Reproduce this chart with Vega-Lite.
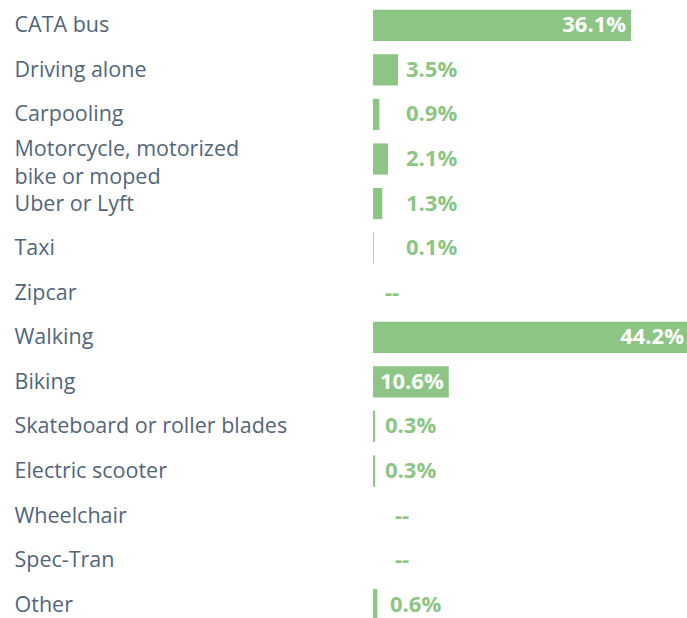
{
  "$schema": "https://vega.github.io/schema/vega-lite/v6.json",
  "autosize": {"type": "none"},
  "padding": {"left": 373, "top": 3, "right": 0, "bottom": 0},
  "width": 316,
  "height": 624,
  "background": "white",
  "config": {"view": {"stroke": null}},
  "data": {
    "values": [
      {"mode": "CATA bus", "pct": 36.1, "label": "36.1%"},
      {"mode": "Driving alone", "pct": 3.5, "label": "3.5%"},
      {"mode": "Carpooling", "pct": 0.9, "label": "0.9%"},
      {"mode": "Motorcycle, motorized bike or moped", "pct": 2.1, "label": "2.1%"},
      {"mode": "Uber or Lyft", "pct": 1.3, "label": "1.3%"},
      {"mode": "Taxi", "pct": 0.1, "label": "0.1%"},
      {"mode": "Zipcar", "pct": 0, "label": "--"},
      {"mode": "Walking", "pct": 44.2, "label": "44.2%"},
      {"mode": "Biking", "pct": 10.6, "label": "10.6%"},
      {"mode": "Skateboard or roller blades", "pct": 0.3, "label": "0.3%"},
      {"mode": "Electric scooter", "pct": 0.3, "label": "0.3%"},
      {"mode": "Wheelchair", "pct": 0, "label": "--"},
      {"mode": "Spec-Tran", "pct": 0, "label": "--"},
      {"mode": "Other", "pct": 0.6, "label": "0.6%"}
    ]
  },
  "encoding": {
    "y": {
      "field": "mode",
      "type": "nominal",
      "sort": null,
      "scale": {"paddingInner": 0.3, "paddingOuter": 0.15},
      "axis": {
        "title": null,
        "domain": false,
        "ticks": false,
        "labelAlign": "left",
        "labelPadding": 359,
        "labelLimit": 400,
        "labelFont": "Open Sans",
        "labelFontSize": 21.5,
        "labelFontWeight": 500,
        "labelColor": "#52667A",
        "labelLineHeight": 28,
        "labelOffset": {"condition": {"test": "datum.value == 'Motorcycle, motorized bike or moped'", "value": -9}, "value": 1},
        "labelExpr": "datum.label == 'Motorcycle, motorized bike or moped' ? ['Motorcycle, motorized', 'bike or moped'] : datum.label"
      }
    }
  },
  "layer": [
    {
      "mark": {"type": "bar", "color": "#8CC584"},
      "encoding": {
        "x": {"field": "pct", "type": "quantitative", "scale": {"domain": [0, 44.2], "nice": false, "zero": true}, "axis": null}
      }
    },
    {
      "transform": [{"filter": "datum.pct > 10"}],
      "mark": {"type": "text", "align": "right", "dx": -5, "font": "Open Sans", "fontSize": 22, "fontWeight": "bold", "color": "white"},
      "encoding": {
        "x": {"field": "pct", "type": "quantitative"},
        "text": {"field": "label"}
      }
    },
    {
      "transform": [{"filter": {"field": "mode", "oneOf": ["Driving alone", "Carpooling", "Motorcycle, motorized bike or moped", "Uber or Lyft", "Taxi"]}}],
      "mark": {"type": "text", "align": "left", "dx": 33, "font": "Open Sans", "fontSize": 22, "fontWeight": "bold", "color": "#8CC584"},
      "encoding": {
        "x": {"datum": 0, "type": "quantitative"},
        "text": {"field": "label"}
      }
    },
    {
      "transform": [{"filter": {"field": "mode", "oneOf": ["Skateboard or roller blades", "Electric scooter", "Zipcar"]}}],
      "mark": {"type": "text", "align": "left", "dx": 12, "font": "Open Sans", "fontSize": 22, "fontWeight": "bold", "color": "#8CC584"},
      "encoding": {
        "x": {"datum": 0, "type": "quantitative"},
        "text": {"field": "label"}
      }
    },
    {
      "transform": [{"filter": {"field": "mode", "oneOf": ["Other"]}}],
      "mark": {"type": "text", "align": "left", "dx": 17, "font": "Open Sans", "fontSize": 22, "fontWeight": "bold", "color": "#8CC584"},
      "encoding": {
        "x": {"datum": 0, "type": "quantitative"},
        "text": {"field": "label"}
      }
    },
    {
      "transform": [{"filter": {"field": "mode", "oneOf": ["Wheelchair", "Spec-Tran"]}}],
      "mark": {"type": "text", "align": "left", "dx": 22, "font": "Open Sans", "fontSize": 22, "fontWeight": "bold", "color": "#8CC584"},
      "encoding": {
        "x": {"datum": 0, "type": "quantitative"},
        "text": {"field": "label"}
      }
    }
  ]
}
